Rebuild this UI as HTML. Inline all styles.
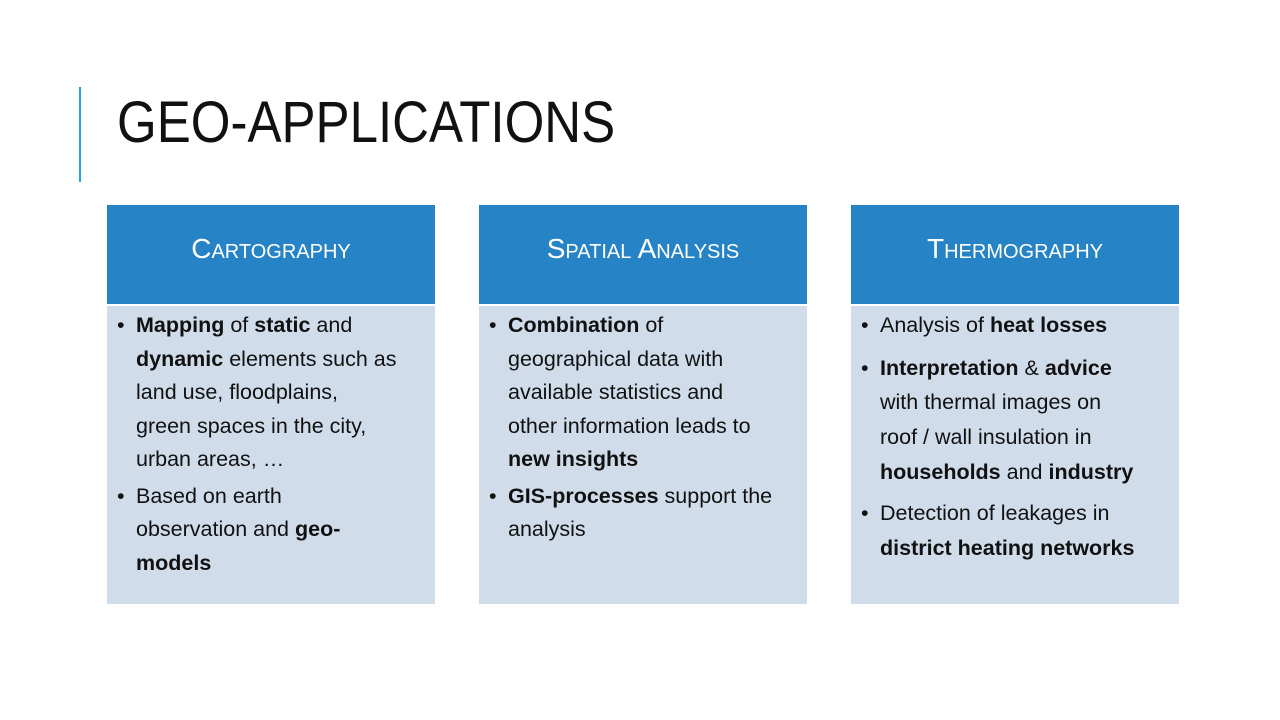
<!DOCTYPE html>
<html><head><meta charset="utf-8"><style>
body{margin:0;width:1280px;height:720px;background:#fff;position:relative;overflow:hidden;font-family:"Liberation Sans",sans-serif;}
.abs{position:absolute}
.title{left:117px;top:88px;font-size:58px;color:#111;white-space:nowrap;transform-origin:0 0;transform:scaleX(0.88);line-height:70px}
.hdr{background:#2683c6;color:#fff;width:328px;height:99px;top:205px;font-size:28px;font-variant:small-caps;text-align:center;line-height:88px}
.bodyb{background:#d0dcea;width:328px;height:298px;top:306px}
.ln{font-size:21.5px;color:#111;white-space:nowrap;line-height:24px}
b{font-weight:bold}
</style></head><body>
<div class="abs" style="left:79px;top:87px;width:2px;height:95px;background:#1aa6e0"></div>
<div class="abs title">GEO-APPLICATIONS</div>

<div class="abs hdr" style="left:107px">Cartography</div>
<div class="abs bodyb" style="left:107px"></div>
<div class="abs hdr" style="left:479px">Spatial Analysis</div>
<div class="abs bodyb" style="left:479px"></div>
<div class="abs hdr" style="left:851px">Thermography</div>
<div class="abs bodyb" style="left:851px"></div>

<div>
<div class="abs ln" style="left:117px;top:313px">•</div>
<div class="abs ln" style="left:136px;top:313px"><b>Mapping</b> of <b>static</b> and</div>
<div class="abs ln" style="left:136px;top:347px"><b>dynamic</b> elements such as</div>
<div class="abs ln" style="left:136px;top:380px">land use, floodplains,</div>
<div class="abs ln" style="left:136px;top:414px">green spaces in the city,</div>
<div class="abs ln" style="left:136px;top:447px">urban areas, …</div>
<div class="abs ln" style="left:117px;top:484px">•</div>
<div class="abs ln" style="left:136px;top:484px">Based on earth</div>
<div class="abs ln" style="left:136px;top:517px">observation and <b>geo-</b></div>
<div class="abs ln" style="left:136px;top:551px"><b>models</b></div>
</div>

<div>
<div class="abs ln" style="left:489px;top:313px">•</div>
<div class="abs ln" style="left:508px;top:313px"><b>Combination</b> of</div>
<div class="abs ln" style="left:508px;top:347px">geographical data with</div>
<div class="abs ln" style="left:508px;top:380px">available statistics and</div>
<div class="abs ln" style="left:508px;top:414px">other information leads to</div>
<div class="abs ln" style="left:508px;top:447px"><b>new insights</b></div>
<div class="abs ln" style="left:489px;top:484px">•</div>
<div class="abs ln" style="left:508px;top:484px"><b>GIS-processes</b> support the</div>
<div class="abs ln" style="left:508px;top:517px">analysis</div>
</div>

<div>
<div class="abs ln" style="left:861px;top:313px">•</div>
<div class="abs ln" style="left:880px;top:313px">Analysis of <b>heat losses</b></div>
<div class="abs ln" style="left:861px;top:356px">•</div>
<div class="abs ln" style="left:880px;top:356px"><b>Interpretation</b> &amp; <b>advice</b></div>
<div class="abs ln" style="left:880px;top:390px">with thermal images on</div>
<div class="abs ln" style="left:880px;top:425px">roof / wall insulation in</div>
<div class="abs ln" style="left:880px;top:460px"><b>households</b> and <b>industry</b></div>
<div class="abs ln" style="left:861px;top:501px">•</div>
<div class="abs ln" style="left:880px;top:501px">Detection of leakages in</div>
<div class="abs ln" style="left:880px;top:536px"><b>district heating networks</b></div>
</div>
</body></html>
